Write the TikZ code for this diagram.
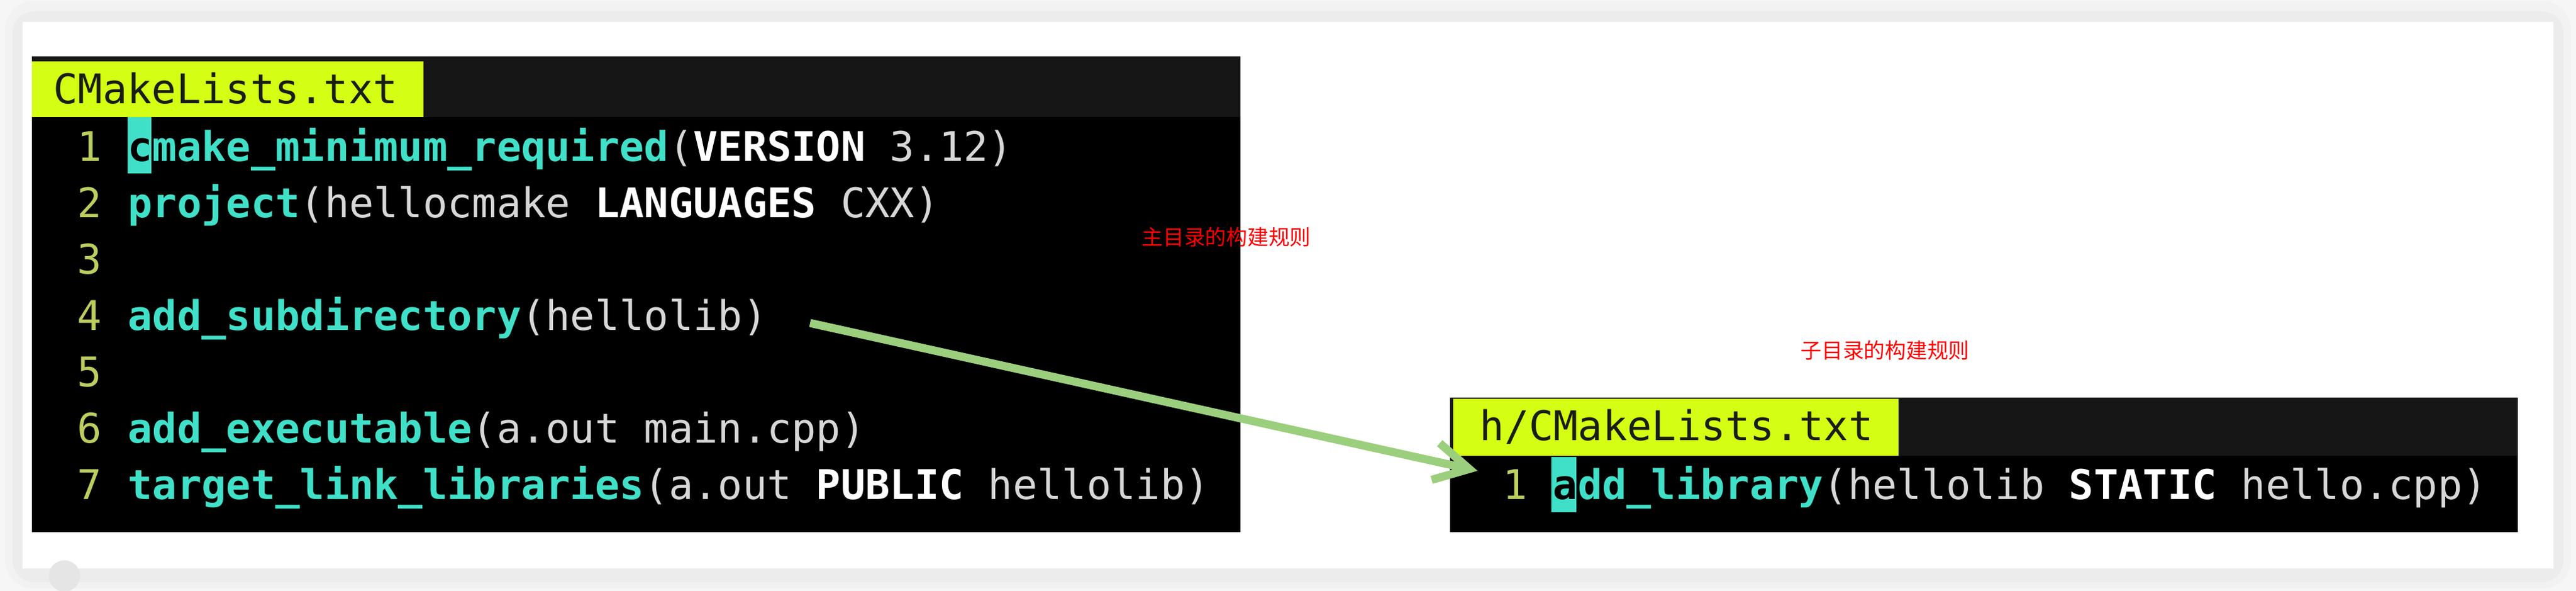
\documentclass[tikz,border=0pt]{standalone}
\usepackage{fontspec}
\usepackage{tikz}
\usetikzlibrary{arrows.meta}
\setmonofont{DejaVu Sans Mono}
\newfontfamily\cjk{Noto Sans CJK SC}
\tikzset{>=latex}

\definecolor{fncol}{RGB}{64,224,200}
\definecolor{numcol}{RGB}{190,205,95}
\definecolor{plaincol}{RGB}{215,215,215}
\definecolor{limecol}{RGB}{212,255,20}
\definecolor{barcol}{RGB}{22,22,22}
\definecolor{tabtext}{RGB}{25,30,20}
\definecolor{arrowcol}{RGB}{155,207,125}

\newcommand{\codefont}{\ttfamily\fontsize{18.57}{22}\selectfont}
\newcommand{\fn}[1]{\textcolor{fncol}{\bfseries #1}}
\newcommand{\kw}[1]{\textcolor{white}{\bfseries #1}}

\begin{document}
\begin{tikzpicture}[
	code/.style={anchor=base west, inner sep=0pt, font=\codefont, text=plaincol},
	num/.style={anchor=base, inner sep=0pt, font=\codefont, text=numcol},
	tab/.style={anchor=base west, inner sep=0pt, font=\codefont, text=tabtext},
	note/.style={anchor=west, inner sep=0pt, font=\cjk\fontsize{9.6}{11}\selectfont, text=red}]
	\useasboundingbox (0,0) rectangle (41.18,-9.44);
	% page and card
	\fill[gray!7] (0,0) rectangle (41.18,-9.44);
	\fill[gray!10, rounded corners=0.45cm] (0.08,-0.02) rectangle (41.10,-9.40);
	\fill[gray!15, rounded corners=0.35cm] (0.20,-0.18) rectangle (40.98,-9.30);
	\fill[gray!4] (0.36,-0.35) rectangle (40.82,-9.08);
	\fill[white] (0.36,-0.35) rectangle (40.82,-9.08);
	\fill[gray!20] (1.03,-9.20) circle (0.25);
	% main CMakeLists.txt
	\fill[black] (0.51,-0.90) rectangle (19.83,-8.50);
	\fill[barcol] (0.51,-0.90) rectangle (19.83,-1.87);
	\fill[limecol] (0.51,-0.98) rectangle (6.77,-1.87);
	\node[tab] (tab1) at (0.85,-1.65) {CMakeLists.txt};
	\fill[fncol] (2.04,-1.87) rectangle (2.42,-2.77);
	\foreach \i in {1,...,7}
		\node[num] (n\i) at (1.43,{-2.57-0.9*(\i-1)}) {\i};
	\node[code] (l1) at (2.04,-2.57) {\fn{\textcolor{black}{c}make\_minimum\_required}(\kw{VERSION} 3.12)};
	\node[code] (l2) at (2.04,-3.47) {\fn{project}(hellocmake \kw{LANGUAGES} CXX)};
	\node[code] (l4) at (2.04,-5.27) {\fn{add\_subdirectory}(hellolib)};
	\node[code] (l6) at (2.04,-7.07) {\fn{add\_executable}(a.out main.cpp)};
	\node[code] (l7) at (2.04,-7.97) {\fn{target\_link\_libraries}(a.out \kw{PUBLIC} hellolib)};
	% sub directory CMakeLists.txt
	\fill[black] (23.18,-6.35) rectangle (40.25,-8.50);
	\fill[barcol] (23.18,-6.35) rectangle (40.25,-7.28);
	\fill[limecol] (23.23,-6.37) rectangle (30.35,-7.28);
	\node[tab] (tab2) at (23.65,-7.03) {h/CMakeLists.txt};
	\fill[fncol] (24.80,-7.30) rectangle (25.20,-8.18);
	\node[num] (m1) at (24.22,-7.97) {1};
	\node[code] (r1) at (24.82,-7.97) {\fn{\textcolor{black}{a}dd\_library}(hellolib \kw{STATIC} hello.cpp)};
	% notes
	\node[note] (mainnote) at (18.25,-3.79) {主目录的构建规则};
	\node[note] (subnote) at (28.78,-5.60) {子目录的构建规则};
	% arrow
	\coordinate (subdir) at (12.95,-5.16);
	\coordinate (libin) at (23.62,-7.52);
	\draw[arrowcol, line width=0.13cm, -{Straight Barb[length=0.55cm, width=0.6cm]}] (subdir) -- (libin);
\end{tikzpicture}
\end{document}
